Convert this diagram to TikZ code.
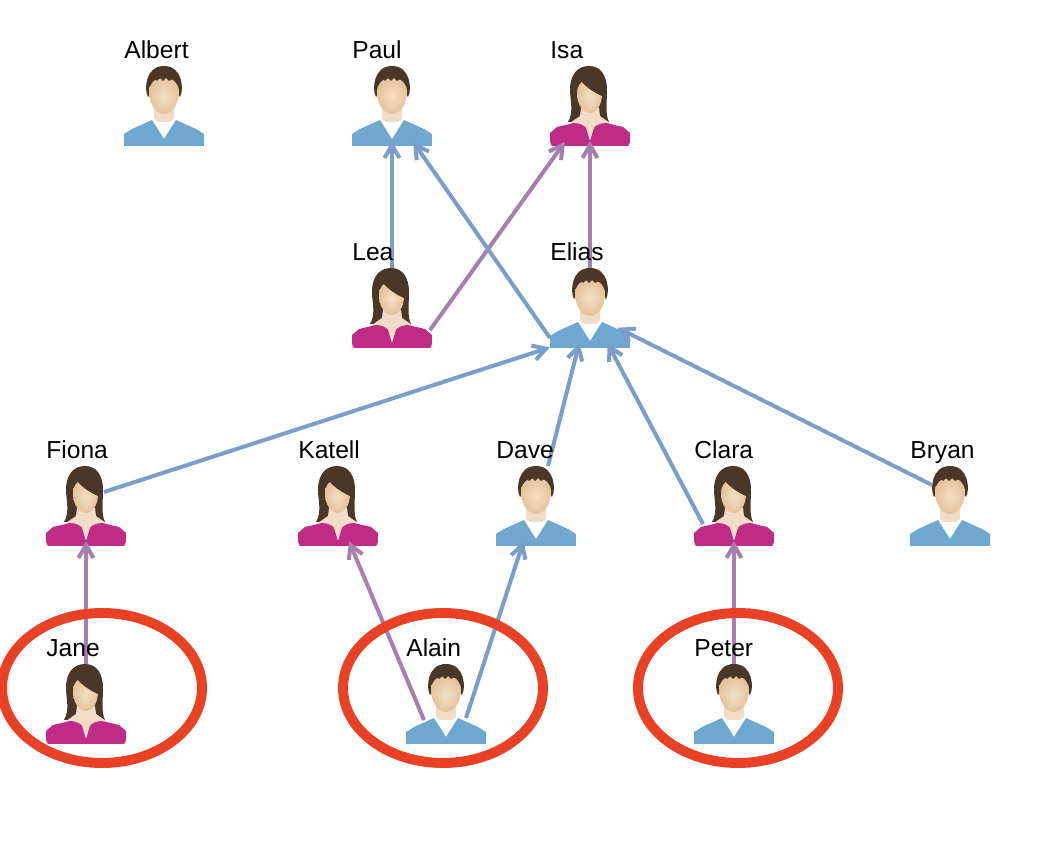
\documentclass[tikz,border=0pt]{standalone}
\usepackage{fontspec}
\setmainfont{Liberation Sans}
\usetikzlibrary{arrows.meta,shapes.geometric}
\definecolor{shirtblue}{RGB}{110, 167, 208}
\definecolor{dressmagenta}{RGB}{191, 44, 135}
\definecolor{hairbrown}{RGB}{74, 55, 40}
\definecolor{skinlight}{RGB}{243, 224, 198}
\definecolor{skindark}{RGB}{229, 194, 154}
\definecolor{linkblue}{RGB}{123, 157, 203}
\definecolor{linkpurple}{RGB}{166, 127, 172}
\definecolor{ringred}{RGB}{232, 65, 37}
\tikzset{
    manicon/.pic={
        \fill[shirtblue] (-40,40) -- (-40,28) -- (-32,23) -- (-12,14) -- (0,33) -- (12,14) -- (32,23) -- (40,28) -- (40,40) -- cycle;
        \fill[white] (-10,14) -- (10,14) -- (0,31) -- cycle;
        \fill[skindark!55!white] (-10,2) -- (10,2) -- (10,13) -- (6,16) -- (-6,16) -- (-10,13) -- cycle;
        \fill[hairbrown] (-16,-9) .. controls (-20,-16) and (-19,-40) .. (0,-40) .. controls (19,-40) and (20,-16) .. (16,-9) -- (12,-14) -- (-12,-14) -- cycle;
        \shade[inner color=skinlight, outer color=skindark] (-15,-14) .. controls (-15,-22) and (-10,-28) .. (0,-28) .. controls (10,-28) and (15,-22) .. (15,-14) .. controls (15,-2) and (8,8) .. (0,8) .. controls (-8,8) and (-15,-2) .. (-15,-14) -- cycle;
        \fill[hairbrown] (-14,-20) -- (-12,-26) -- (-9,-27) -- (-7,-25) -- (-4,-28) -- (-1,-25) -- (2,-28) -- (5,-25) -- (8,-27) -- (12,-26) -- (14,-20) -- (14,-30) -- (-14,-30) -- cycle;
    },
    womanicon/.pic={
        \fill[hairbrown] (-22,16) .. controls (-16,6) and (-20,-6) .. (-20,-16) .. controls (-20,-32) and (-12,-40) .. (-1,-40) .. controls (11,-40) and (17,-30) .. (17,-16) .. controls (17,-4) and (15,8) .. (19,16) -- cycle;
        \fill[skindark!55!white] (-9,2) -- (9,2) -- (10,10) -- (20,17) -- (20,30) -- (-20,30) -- (-20,17) -- (-10,10) -- cycle;
        \shade[inner color=skinlight, outer color=skindark] (-13,-12) .. controls (-13,-20) and (-10,-26) .. (0,-26) .. controls (9,-26) and (12,-20) .. (12,-12) .. controls (12,-2) and (7,7) .. (0,7) .. controls (-7,7) and (-13,-2) .. (-13,-12) -- cycle;
        \fill[hairbrown] (-10,-28) -- (-9,-25) .. controls (-3,-18) and (5,-13) .. (12,-10) -- (15,-25) -- (4,-33) -- cycle;
        \fill[skindark!55!white] (-40,36) -- (-40,40) -- (-38,40) -- cycle (40,36) -- (40,40) -- (38,40) -- cycle;
        \fill[dressmagenta] (-38,40) -- (-40,36) -- (-40,27) -- (-33,21) -- (-16,17) .. controls (-10,17) and (-5,20) .. (-4,22) -- (0,35) -- (4,22) .. controls (5,20) and (10,17) .. (16,17) -- (33,21) -- (40,27) -- (40,36) -- (38,40) -- cycle;
    },
    person/.style={rectangle, minimum size=1.6cm, inner sep=0pt, outer sep=0pt},
    man/.style={person, path picture={\pic at (path picture bounding box.center) {manicon};}},
    woman/.style={person, path picture={\pic at (path picture bounding box.center) {womanicon};}},
    namelabel/.style={anchor=base west, inner sep=0pt, yshift=0.155cm, font=\fontsize{14pt}{17pt}\selectfont},
    bluelink/.style={draw=linkblue, line width=0.08cm, shorten >=-0.1cm, -{Straight Barb[length=0.26cm,width=0.3cm]}},
    purplelink/.style={draw=linkpurple, line width=0.08cm, shorten >=-0.1cm, -{Straight Barb[length=0.26cm,width=0.3cm]}},
    ring/.style={ellipse, draw=ringred, line width=0.2cm, minimum width=4cm, minimum height=3cm, inner sep=0pt}
}
\begin{document}
\begin{tikzpicture}[x=0.02cm, y=-0.02cm]
    \useasboundingbox (0,0) rectangle (1042,864);

    \node[man] (albert) at (164,106) {};
    \node[man] (paul) at (392,106) {};
    \node[woman] (isa) at (590,106) {};
    \node[woman] (lea) at (392,308) {};
    \node[man] (elias) at (590,308) {};
    \node[woman] (fiona) at (86,506) {};
    \node[woman] (katell) at (338,506) {};
    \node[man] (dave) at (536,506) {};
    \node[woman] (clara) at (734,506) {};
    \node[man] (bryan) at (950,506) {};
    \node[woman] (jane) at (86,704) {};
    \node[man] (alain) at (446,704) {};
    \node[man] (peter) at (734,704) {};

    \draw[bluelink] (lea.north) -- (paul.south);
    \draw[purplelink] ([shift={(38,22)}]lea.center) -- ([shift={(-28,40)}]isa.center);
    \draw[bluelink] ([shift={(-40,30)}]elias.center) -- ([shift={(24,40)}]paul.center);
    \draw[purplelink] (elias.north) -- (isa.south);
    \draw[bluelink] ([shift={(18,-14)}]fiona.center) -- ([shift={(-45,41)}]elias.center);
    \draw[bluelink] ([shift={(12,-40)}]dave.center) -- ([shift={(-12,40)}]elias.center);
    \draw[bluelink] ([shift={(-31,18)}]clara.center) -- ([shift={(20,40)}]elias.center);
    \draw[bluelink] ([shift={(-18,-21)}]bryan.center) -- ([shift={(32,22)}]elias.center);
    \draw[purplelink] (jane.north) -- (fiona.south);
    \draw[purplelink] ([shift={(-22,16)}]alain.center) -- ([shift={(13,40)}]katell.center);
    \draw[bluelink] ([shift={(20,14)}]alain.center) -- ([shift={(-14,40)}]dave.center);
    \draw[purplelink] (peter.north) -- (clara.south);

    \node[namelabel] (albertname) at (albert.north west) {Albert};
    \node[namelabel] (paulname) at (paul.north west) {Paul};
    \node[namelabel] (isaname) at (isa.north west) {Isa};
    \node[namelabel] (leaname) at (lea.north west) {Lea};
    \node[namelabel] (eliasname) at (elias.north west) {Elias};
    \node[namelabel] (fionaname) at (fiona.north west) {Fiona};
    \node[namelabel] (katellname) at (katell.north west) {Katell};
    \node[namelabel] (davename) at (dave.north west) {Dave};
    \node[namelabel] (claraname) at (clara.north west) {Clara};
    \node[namelabel] (bryanname) at (bryan.north west) {Bryan};
    \node[namelabel] (janename) at (jane.north west) {Jane};
    \node[namelabel] (alainname) at (alain.north west) {Alain};
    \node[namelabel] (petername) at (peter.north west) {Peter};

    \node[ring] (janering) at (102,688) {};
    \node[ring] (alainring) at (443,688) {};
    \node[ring] (peterring) at (738,688) {};
\end{tikzpicture}
\end{document}
